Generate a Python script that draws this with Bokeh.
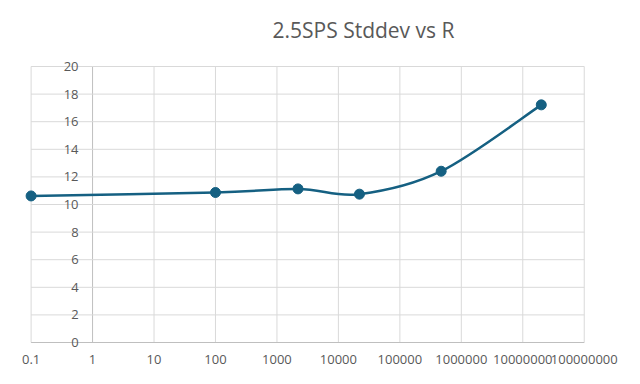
import numpy as np
from bokeh.plotting import figure
from bokeh.models import Range1d, Label, LabelSet, ColumnDataSource
from bokeh.core.properties import value
from bokeh.embed import file_html
from bokeh.resources import INLINE

# ---- data ----
title_text = "2.5SPS Stddev vs R"
resistance = [0.1, 100, 2200, 22000, 470000, 20000000]
stddev = [10.62, 10.87, 11.13, 10.75, 12.41, 17.22]
x_ticks = [0.1, 1, 10, 100, 1000, 10000, 100000, 1000000, 10000000, 100000000]
x_tick_labels = ["0.1", "1", "10", "100", "1000", "10000", "100000",
                 "1000000", "10000000", "100000000"]
y_ticks = [0, 2, 4, 6, 8, 10, 12, 14, 16, 18, 20]
y_tick_labels = [str(v) for v in y_ticks]

# ---- style / layout ----
LINE_COLOR = "#156082"
GRID_COLOR = "#d9d9d9"
AXIS_COLOR = "#bfbfbf"
TEXT_COLOR = "#595959"
FONT = "Open Sans"
W, H = 624, 368
PX_DEC = 61.46      # pixels per decade on x
X0_PX = 30.6        # pixel position of the first x tick
PX_UNIT = 13.8      # pixels per y unit
Y0_PX = 342.0       # pixel position (from top) of y = 0

x_start = 10 ** (np.log10(x_ticks[0]) - X0_PX / PX_DEC)
x_end = 10 ** (np.log10(x_ticks[0]) + (W - X0_PX) / PX_DEC)
y_start = -(H - Y0_PX) / PX_UNIT
y_end = Y0_PX / PX_UNIT

p = figure(width=W, height=H, x_axis_type="log",
           x_axis_location=None, y_axis_location=None,
           output_backend="svg", toolbar_location=None,
           x_range=Range1d(x_start, x_end), y_range=Range1d(y_start, y_end),
           min_border=0)
p.outline_line_color = None
p.xgrid.visible = False
p.ygrid.visible = False
p.background_fill_color = "white"
p.border_fill_color = "white"

# gridlines drawn from tick arrays
x_lo, x_hi = x_ticks[0], x_ticks[-1]
y_lo, y_hi = y_ticks[0], y_ticks[-1]
vcol = [AXIS_COLOR if t == 1 else GRID_COLOR for t in x_ticks]
p.segment(x0=x_ticks, x1=x_ticks, y0=[y_lo] * len(x_ticks), y1=[y_hi] * len(x_ticks),
          line_color=vcol, line_width=1)
hcol = [AXIS_COLOR if t == 0 else GRID_COLOR for t in y_ticks]
p.segment(x0=[x_lo] * len(y_ticks), x1=[x_hi] * len(y_ticks), y0=y_ticks, y1=y_ticks,
          line_color=hcol, line_width=1)

# smoothed line (Catmull-Rom -> Bezier in log-x / linear-y space)
lx = np.log10(np.array(resistance, dtype=float))
ly = np.array(stddev, dtype=float)
n = len(lx)
x0s, y0s, x1s, y1s, cx0, cy0, cx1, cy1 = [], [], [], [], [], [], [], []
for i in range(n - 1):
    pm = i - 1 if i > 0 else i
    pp = i + 2 if i + 2 < n else i + 1
    c0x = lx[i] + (lx[i + 1] - lx[pm]) / 6.0
    c0y = ly[i] + (ly[i + 1] - ly[pm]) / 6.0
    c1x = lx[i + 1] - (lx[pp] - lx[i]) / 6.0
    c1y = ly[i + 1] - (ly[pp] - ly[i]) / 6.0
    x0s.append(10 ** lx[i]); y0s.append(ly[i])
    x1s.append(10 ** lx[i + 1]); y1s.append(ly[i + 1])
    cx0.append(10 ** c0x); cy0.append(c0y)
    cx1.append(10 ** c1x); cy1.append(c1y)
p.bezier(x0=x0s, y0=y0s, x1=x1s, y1=y1s, cx0=cx0, cy0=cy0, cx1=cx1, cy1=cy1,
         line_color=LINE_COLOR, line_width=2.5)
p.scatter(x=resistance, y=stddev, size=10, marker="circle",
          fill_color=LINE_COLOR, line_color=LINE_COLOR)

# x tick labels below the bottom gridline
xsrc = ColumnDataSource(dict(x=x_ticks, y=[y_lo] * len(x_ticks), t=x_tick_labels))
p.add_layout(LabelSet(x="x", y="y", text="t", source=xsrc, y_offset=-17,
                      text_align="center", text_baseline="middle",
                      text_font=value(FONT), text_font_size="13px",
                      text_color=TEXT_COLOR))

# y tick labels placed next to the axis that crosses at x = 1
ysrc = ColumnDataSource(dict(x=[1] * len(y_ticks), y=y_ticks, t=y_tick_labels))
p.add_layout(LabelSet(x="x", y="y", text="t", source=ysrc, x_offset=-14,
                      text_align="right", text_baseline="middle",
                      text_font=value(FONT), text_font_size="13px",
                      text_color=TEXT_COLOR))

# title (placed above the top gridline)
p.add_layout(Label(x=10 ** 4.408, y=y_hi, y_offset=37, text=title_text,
                   text_align="center", text_baseline="middle",
                   text_font=FONT, text_font_size="21px", text_color=TEXT_COLOR))

open("out.html", "w").write(file_html(p, INLINE))
